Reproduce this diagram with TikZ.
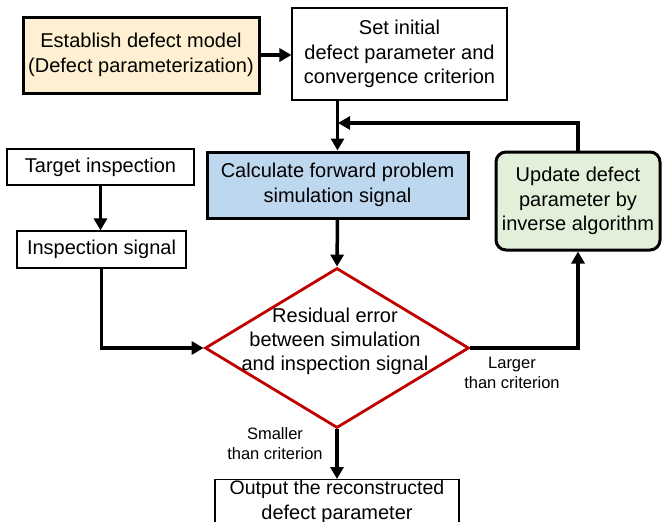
\documentclass[tikz,border=0pt]{standalone}
\usepackage{fontspec}
\setmainfont{Liberation Sans}
\usetikzlibrary{shapes.geometric,arrows.meta,calc}
\definecolor{estfill}{HTML}{FEF0D0}
\definecolor{calcfill}{HTML}{BDD7EE}
\definecolor{updfill}{HTML}{E2F0D9}
\definecolor{diared}{HTML}{C00000}
\begin{document}
\begin{tikzpicture}[x=1pt,y=-1pt,
  box/.style={draw=black,rectangle,align=center,inner sep=0pt,
    font=\fontsize{20}{24.5}\selectfont},
  thinbox/.style={box,line width=1.1pt},
  thickbox/.style={box,line width=3pt},
  arr/.style={line width=3.5pt,-{Triangle[length=12pt,width=13pt]}},
  lbl/.style={align=center,inner sep=0pt,font=\fontsize{16.5}{20}\selectfont}]
\clip (0,0) rectangle (662,522);
\fill[white] (0,0) rectangle (662,522);
% nodes
\node[thickbox,fill=estfill,minimum width=236,minimum height=76] (est) at (141,55)
  {Establish defect model\\(Defect parameterization)};
\node[thinbox,minimum width=215,minimum height=92] (set) at (399.5,54)
  {Set initial\\defect parameter and\\convergence criterion};
\node[thinbox,minimum width=187,minimum height=36] (tgt) at (100.5,167)
  {Target inspection};
\node[thinbox,minimum width=169,minimum height=37] (insp) at (101.5,249.5)
  {Inspection signal};
\node[thickbox,fill=calcfill,minimum width=261,minimum height=66] (calc) at (337.5,185)
  {Calculate forward problem\\simulation signal};
\node[thickbox,fill=updfill,rounded corners=10pt,minimum width=164,minimum height=98] (upd) at (578,201)
  {Update defect\\parameter by\\inverse algorithm};
\node[diamond,draw=diared,line width=2.8pt,inner sep=0pt,minimum width=264,minimum height=160] (dia) at (337,348) {};
\node[align=center,inner sep=0pt,font=\fontsize{20}{24}\selectfont] (diat) at (335,341)
  {Residual error\\between simulation\\and inspection signal};
\node[thinbox,anchor=north,minimum width=244,text depth=12pt,inner ysep=1pt] (out) at (337,479)
  {\fontsize{19.5}{18}\selectfont Output the reconstructed\\defect parameter};
\node[lbl] (lg) at (512,373) {Larger\\than criterion};
\node[lbl] (sm) at (275,444) {Smaller\\than criterion};
\coordinate (fb) at (338,123);
% connectors
\draw[arr] (est.east) -- (est.east -| set.west);
\draw[arr] (calc.north |- set.south) -- (calc.north);
\draw[arr] (upd.north) |- (fb);
\draw[arr] (tgt.south) -- (tgt.south |- insp.north);
\draw[arr] (calc.south) -- (dia.north);
\draw[arr] (insp.south) |- (dia.west);
\draw[arr] (dia.east) -| (upd.south);
\draw[arr] (dia.south) -- (out.north);
\end{tikzpicture}
\end{document}
